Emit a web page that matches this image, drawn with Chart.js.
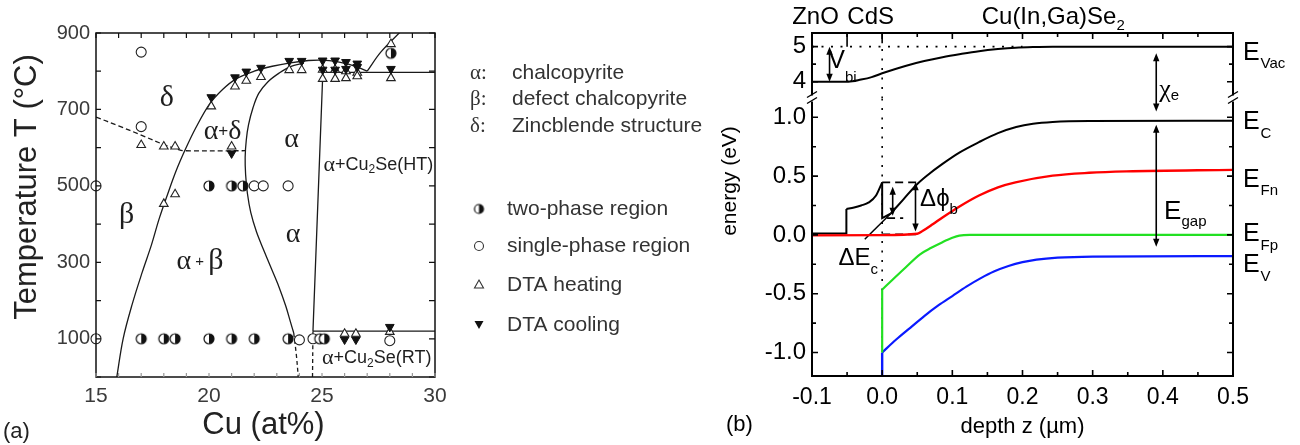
<!DOCTYPE html>
<html>
<head>
<meta charset="utf-8">
<script src="https://cdn.jsdelivr.net/npm/chart.js@4/dist/chart.umd.min.js"></script>
<style>
  html, body { margin: 0; padding: 0; background: #fff; width: 1300px; height: 445px; overflow: hidden; }
  .panel { position: absolute; top: 0; }
  #panelA { left: 0; width: 720px; height: 445px; }
  #panelB { left: 720px; width: 580px; height: 445px; }
</style>
</head>
<body>
<div id="panelA" class="panel"><canvas id="phase" width="720" height="445"></canvas></div>
<div id="panelB" class="panel"><canvas id="band" width="580" height="445"></canvas></div>
<script>
// ---------------- panel (a): Cu–In–Se phase diagram ----------------
const cuTickLabels   = [15, 20, 25, 30];
const tempTickLabels = [100, 300, 500, 700, 900];

// samples [Cu at%, T °C]
const twoPhase = [[17,100],[18,100],[18.5,100],[20,100],[21,100],[22,100],[23.5,100],[24.9,100],[25.1,100],
                  [20,500],[21,500],[21.5,500],[28.05,847]];
const singlePhase = [[15,100],[15,500],[17,850],[17,655],[22,500],[22.4,500],[23.5,500],[24,97],[24.6,100],[28,95]];
const dtaHeating = [[17,607],[18,603],[18.5,603],[18,453],[18.5,478],[21,603],
                    [20.1,708],[21.15,760],[21.65,775],[22.3,785],[23.55,803],[24.1,803],
                    [25.03,804],[25.58,804],[26.06,800],[26.56,796],
                    [25.03,780],[25.58,780],[26.06,782],[26.56,787],[28.05,782],[28.05,871],
                    [26,113],[26.5,113],[28,118]];
const dtaCooling = [[21,585],[20.1,732],[21.15,784],[21.65,799],[22.3,809],[23.55,827],[24.1,827],
                    [25.03,828],[25.58,828],[26.06,824],[26.56,820],
                    [25.03,804],[25.58,804],[26.06,806],[26.56,811],[28.05,806],
                    [26,98],[26.5,98],[28,131]];

// phase boundaries
const liquidus = [[15.92,0],[16.2,100],[16.6,190],[17.05,275],[17.45,345],[17.8,415],[18.15,475],[18.55,540],
                  [18.95,595],[19.4,650],[20.0,712],[20.6,752],[21.2,780],[22.0,800],[22.8,813],[23.6,822],
                  [24.4,828],[25.0,829],[25.6,826],[26.2,818],[26.6,810],[27.0,800]];
const alphaEdge = [[24.2,821],[23.6,812],[23.1,795],[22.6,772],[22.2,742],[21.95,705],[21.75,660],[21.65,620],
                   [21.6,575],[21.62,530],[21.7,480],[21.85,430],[22.1,380],[22.4,335],[22.75,285],[23.1,235],
                   [23.4,185],[23.6,145],[23.75,115]];
const alphaEdgeLow = [[23.75,115],[23.87,55],[23.95,0]];
const cu2seEdge    = [[25.03,786],[24.6,120]];
const cu2seEdgeLow = [[24.6,120],[24.58,0]];
const lineHT       = [[25.03,797],[30,797]];
const lineRT       = [[24.6,120],[30,120]];
const deltaCu2Se   = [[27.0,800],[27.6,850],[28.5,905]];
const betaDelta    = [[15,680],[16,657],[17,633],[18,608],[18.6,596],[18.9,592],[21.6,592]];

// ---------------- panel (b): band diagram ----------------
const depthTicks  = [-0.1, 0.0, 0.1, 0.2, 0.3, 0.4, 0.5];
const energyTicks = [-1.0, -0.5, 0.0, 0.5, 1.0];
const vacuumTicks = [4, 5];

const vacuumLevel = [[-0.1,4.0],[-0.048,4.0],[-0.03,4.06],[-0.015,4.13],[0,4.24],[0.033,4.45],[0.06,4.59],
                     [0.086,4.70],[0.112,4.79],[0.138,4.87],[0.165,4.93],[0.19,4.97],[0.215,4.99],[0.243,5.0],[0.5,5.0]];
const ecWindow    = [[-0.1,0.012],[-0.051,0.012],[-0.051,0.22]];
const ecBuffer    = [[-0.051,0.22],[-0.04,0.233],[-0.03,0.25],[-0.019,0.276],[-0.009,0.333],[0,0.447]];
const ecSpike     = [[0,0.447],[0,0.143],[0.012,0.18]];
const ecAbsorber  = [[0.012,0.18],[0.03,0.3],[0.049,0.427],[0.065,0.51],[0.086,0.604],[0.11,0.70],[0.138,0.789],
                     [0.165,0.865],[0.191,0.917],[0.215,0.945],[0.243,0.96],[0.295,0.968],[0.5,0.97]];
const efn         = [[-0.1,-0.004],[0.0,-0.002],[0.05,0.01],[0.058,0.035],[0.072,0.09],[0.086,0.148],[0.112,0.248],
                     [0.138,0.335],[0.165,0.405],[0.19,0.447],[0.243,0.504],[0.295,0.528],[0.348,0.54],[0.5,0.553]];
const efpEdge     = [[0,-1.0],[0,-0.464]];
const efp         = [[0,-0.464],[0.033,-0.279],[0.054,-0.165],[0.07,-0.11],[0.086,-0.062],[0.1,-0.025],
                     [0.11,-0.006],[0.125,0],[0.5,0]];
const evEdge      = [[0,-1.2],[0,-1.0]];
const ev          = [[0,-1.0],[0.02,-0.89],[0.04,-0.79],[0.06,-0.69],[0.08,-0.6],[0.1,-0.52],[0.12,-0.44],
                     [0.14,-0.37],[0.16,-0.31],[0.18,-0.265],[0.2,-0.232],[0.22,-0.21],[0.25,-0.193],[0.3,-0.184],[0.5,-0.18]];
const barrierTop   = [[0,0.447],[0.05,0.447]];
const barrierSpike = [[0.007,0.143],[0.03,0.143]];
const barrierBase  = [[0,0.005],[0.05,0.005]];
const deltaEcLead  = [[-0.0248,-0.037],[0.012,0.18]];

const SANS  = '"Liberation Sans", Arial, Helvetica, sans-serif';
const SERIF = '"Liberation Serif", "Times New Roman", serif';
Chart.defaults.font.family = SANS;

const pts = arr => arr.map(([x, y]) => ({ x, y }));
const near = (v, step) => Math.abs(v / step - Math.round(v / step)) < 1e-6;

// draws a run of text pieces: [text, font, dy]
function drawRich(ctx, x, y, parts, align) {
  let w = 0;
  parts.forEach(p => { ctx.font = p[1]; w += ctx.measureText(p[0]).width; });
  let cx = align === 'center' ? x - w / 2 : (align === 'right' ? x - w : x);
  ctx.textAlign = 'left';
  ctx.textBaseline = 'middle';
  parts.forEach(p => {
    ctx.font = p[1];
    ctx.fillText(p[0], cx, y + (p[2] || 0));
    cx += ctx.measureText(p[0]).width;
  });
}

// half-filled circle marker (right half dark)
function halfDisc(r) {
  const c = document.createElement('canvas');
  const s = Math.ceil(2 * r + 4);
  c.width = c.height = s;
  const g = c.getContext('2d');
  const m = s / 2;
  g.beginPath(); g.arc(m, m, r, 0, Math.PI * 2); g.fillStyle = '#fff'; g.fill();
  g.beginPath(); g.moveTo(m, m - r); g.arc(m, m, r, -Math.PI / 2, Math.PI / 2); g.closePath();
  g.fillStyle = '#111'; g.fill();
  g.beginPath(); g.arc(m, m, r, 0, Math.PI * 2); g.lineWidth = 1.2; g.strokeStyle = '#111'; g.stroke();
  return c;
}
const halfMarker = halfDisc(5);
const halfMarkerSmall = halfDisc(4.5);

function boundary(data, dash) {
  return { data: pts(data), showLine: true, borderColor: '#1a1a1a', borderWidth: 1.3,
           borderDash: dash || [], pointRadius: 0, tension: 0.35, fill: false };
}
function markers(data, style) {
  return Object.assign({ data: pts(data), showLine: false, clip: false, pointHoverRadius: 0 }, style);
}

const regionLabels = [
  { x: 18.13, y: 729, parts: [['δ', '30px ' + SERIF]] },
  { x: 20.6,  y: 642, parts: [['α', '28px ' + SERIF], ['+', '17px ' + SANS], ['δ', '28px ' + SERIF]] },
  { x: 23.65, y: 620, parts: [['α', '28px ' + SERIF]] },
  { x: 16.36, y: 424, parts: [['β', '30px ' + SERIF]] },
  { x: 23.72, y: 372, parts: [['α', '28px ' + SERIF]] },
  { x: 19.6,  y: 302, parts: [['α', '28px ' + SERIF], [' + ', '15px ' + SANS], ['β', '30px ' + SERIF]] },
  { x: 27.49, y: 555, parts: [['α', '22px ' + SERIF], ['+Cu', '18px ' + SANS], ['2', '12px ' + SANS, 5], ['Se(HT)', '18px ' + SANS]] },
  { x: 27.42, y: 49,  parts: [['α', '22px ' + SERIF], ['+Cu', '18px ' + SANS], ['2', '12px ' + SANS, 5], ['Se(RT)', '18px ' + SANS]] }
];

const phaseDecor = {
  id: 'phaseDecor',
  afterDatasetsDraw(chart) {
    const { ctx, scales: { x, y } } = chart;
    ctx.save();
    ctx.fillStyle = '#1e1e1e';
    regionLabels.forEach(l => drawRich(ctx, x.getPixelForValue(l.x), y.getPixelForValue(l.y), l.parts, 'center'));
    ctx.restore();
  },
  afterDraw(chart) {
    const { ctx, chartArea: a, scales: { x, y } } = chart;
    ctx.save();
    // frame and inward ticks
    ctx.strokeStyle = '#111';
    ctx.lineWidth = 1.5;
    ctx.strokeRect(a.left, a.top, a.right - a.left, a.bottom - a.top);
    ctx.lineWidth = 1.2;
    ctx.beginPath();
    y.ticks.forEach(t => {
      const py = y.getPixelForValue(t.value);
      ctx.moveTo(a.left, py); ctx.lineTo(a.left + 5, py);
      ctx.moveTo(a.right, py); ctx.lineTo(a.right - 6, py);
    });
    x.ticks.forEach(t => {
      const px = x.getPixelForValue(t.value);
      ctx.moveTo(px, a.top); ctx.lineTo(px, a.top + 5);
    });
    ctx.stroke();
    ctx.strokeStyle = '#9a9a9a';
    ctx.beginPath();
    x.ticks.forEach(t => {
      const px = x.getPixelForValue(t.value);
      ctx.moveTo(px, a.bottom); ctx.lineTo(px, a.bottom - 4);
    });
    ctx.stroke();

    // axis titles
    ctx.fillStyle = '#222';
    ctx.textAlign = 'center';
    ctx.textBaseline = 'middle';
    ctx.font = '31px ' + SANS;
    ctx.fillText('Cu (at%)', (a.left + a.right) / 2 - 2, 425);
    ctx.save();
    ctx.translate(27, 187);
    ctx.rotate(-Math.PI / 2);
    ctx.fillText('Temperature T (°C)', 0, 0);
    ctx.restore();
    ctx.textAlign = 'left';
    ctx.font = '22px ' + SANS;
    ctx.fillText('(a)', 3, 432);

    // key
    ctx.fillStyle = '#333';
    const greek = [['α:', 'chalcopyrite', 73], ['β:', 'defect chalcopyrite', 99], ['δ:', 'Zincblende structure', 126]];
    greek.forEach(g => {
      ctx.font = '21px ' + SERIF;
      ctx.fillText(g[0], 470, g[2]);
      ctx.font = '21px ' + SANS;
      ctx.fillText(g[1], 512, g[2]);
    });
    ctx.font = '21px ' + SANS;
    ctx.fillText('two-phase region', 507, 209);
    ctx.fillText('single-phase region', 507, 246);
    ctx.fillText('DTA heating', 507, 285);
    ctx.fillText('DTA cooling', 507, 325);
    ctx.drawImage(halfMarkerSmall, 479 - halfMarkerSmall.width / 2, 209 - halfMarkerSmall.height / 2);
    ctx.strokeStyle = '#333';
    ctx.lineWidth = 1.1;
    ctx.beginPath(); ctx.arc(479, 246, 4.5, 0, Math.PI * 2); ctx.stroke();
    ctx.beginPath(); ctx.moveTo(479, 280); ctx.lineTo(483.5, 288); ctx.lineTo(474.5, 288); ctx.closePath(); ctx.stroke();
    ctx.fillStyle = '#111';
    ctx.beginPath(); ctx.moveTo(474.5, 321); ctx.lineTo(483.5, 321); ctx.lineTo(479, 329); ctx.closePath(); ctx.fill();
    ctx.restore();
  }
};

new Chart(document.getElementById('phase'), {
  type: 'scatter',
  data: {
    datasets: [
      markers(twoPhase,    { pointStyle: halfMarker, pointRadius: 5 }),
      markers(singlePhase, { pointStyle: 'circle', pointRadius: 5, pointBackgroundColor: '#fff', pointBorderColor: '#222', pointBorderWidth: 1.1 }),
      markers(dtaCooling,  { pointStyle: 'triangle', pointRotation: 180, pointRadius: 5, pointBackgroundColor: '#111', pointBorderColor: '#111', pointBorderWidth: 1 }),
      markers(dtaHeating,  { pointStyle: 'triangle', pointRadius: 5, pointBackgroundColor: '#fff', pointBorderColor: '#222', pointBorderWidth: 1.1 }),
      boundary(liquidus),
      boundary(alphaEdge),
      boundary(alphaEdgeLow, [4, 3]),
      boundary(cu2seEdge),
      boundary(cu2seEdgeLow, [4, 3]),
      boundary(lineHT),
      boundary(lineRT),
      boundary(deltaCu2Se),
      boundary(betaDelta, [5, 3])
    ]
  },
  options: {
    responsive: false,
    animation: false,
    events: [],
    layout: { padding: { top: 33, right: 285, bottom: 0, left: 0 } },
    plugins: { legend: { display: false }, tooltip: { enabled: false } },
    scales: {
      x: {
        type: 'linear', min: 15, max: 30,
        grid: { display: false, drawTicks: false },
        border: { display: false },
        ticks: {
          stepSize: 1, autoSkip: false, maxRotation: 0, minRotation: 0, includeBounds: false,
          padding: 7, color: '#3a3a3a', font: { size: 21 },
          callback: v => cuTickLabels.includes(v) ? String(v) : ''
        },
        afterFit: s => { s.height = 68; }
      },
      y: {
        type: 'linear', min: 0, max: 900,
        grid: { display: false, drawTicks: false },
        border: { display: false },
        ticks: {
          stepSize: 100, autoSkip: false, includeBounds: false, padding: 6, color: '#3a3a3a', font: { size: 20 },
          callback: v => tempTickLabels.includes(v) ? String(v) : ''
        },
        afterFit: s => { s.width = 96; }
      }
    }
  },
  plugins: [phaseDecor]
});

// ---------------- panel (b) drawing ----------------
function curve(data, color, width, axis, opts) {
  return Object.assign({ data: pts(data), showLine: true, borderColor: color, borderWidth: width,
                         pointRadius: 0, yAxisID: axis, fill: false, tension: 0 }, opts || {});
}
const smooth = { cubicInterpolationMode: 'monotone' };
const dotted = { borderDash: [2, 7.5], borderCapStyle: 'butt' };
const dashed = { borderDash: [8, 5] };

const arrows = [
  { x: -0.075, top: [5.0, 'yt'],   bottom: [4.0, 'yt'] },
  { x: 0.3906, top: [4.81, 'yt'],  bottom: [1.049, 'yb'] },
  { x: 0.3906, top: [0.936, 'yb'], bottom: [-0.10, 'yb'] },
  { x: 0.015,  top: [0.41, 'yb'],  bottom: [0.162, 'yb'] },
  { x: 0.0475, top: [0.447, 'yb'], bottom: [0.028, 'yb'] }
];
const notes = [
  { x: -0.0566, y: 4.59,  axis: 'yt', parts: [['V', '25px ' + SANS], ['bi', '15px ' + SANS, 17]] },
  { x: 0.409,   y: 3.76,  axis: 'yt', parts: [['χ', '26px ' + SERIF], ['e', '15px ' + SANS, 6]] },
  { x: 0.432,   y: 0.20,  axis: 'yb', parts: [['E', '26px ' + SANS], ['gap', '15px ' + SANS, 10]] },
  { x: 0.081,   y: 0.30,  axis: 'yb', parts: [['Δϕ', '24px ' + SANS], ['b', '15px ' + SANS, 10]] },
  { x: -0.034,  y: -0.20, axis: 'yb', parts: [['ΔE', '24px ' + SANS], ['c', '15px ' + SANS, 11]] }
];
const bandLabels = [
  { sub: 'Vac', axis: 'yt', y: 4.82 },
  { sub: 'C',   axis: 'yb', y: 0.957 },
  { sub: 'Fn',  axis: 'yb', y: 0.47 },
  { sub: 'Fp',  axis: 'yb', y: 0.004 },
  { sub: 'V',   axis: 'yb', y: -0.26 }
];

function vArrow(ctx, x, y1, y2) {
  const head = 8, half = 3.2;
  ctx.beginPath(); ctx.moveTo(x, y1 + head - 1); ctx.lineTo(x, y2 - head + 1); ctx.stroke();
  ctx.beginPath(); ctx.moveTo(x, y1); ctx.lineTo(x - half, y1 + head); ctx.lineTo(x + half, y1 + head); ctx.closePath(); ctx.fill();
  ctx.beginPath(); ctx.moveTo(x, y2); ctx.lineTo(x - half, y2 - head); ctx.lineTo(x + half, y2 - head); ctx.closePath(); ctx.fill();
}

const bandDecor = {
  id: 'bandDecor',
  afterDraw(chart) {
    const { ctx, chartArea: a, scales } = chart;
    const { x, yb, yt } = scales;
    const yOf = (v, ax) => scales[ax].getPixelForValue(v);
    ctx.save();
    ctx.strokeStyle = '#000';
    ctx.fillStyle = '#000';

    // frame
    ctx.lineWidth = 2;
    ctx.strokeRect(a.left, a.top, a.right - a.left, a.bottom - a.top);

    // inward ticks
    ctx.lineWidth = 1.6;
    ctx.beginPath();
    x.ticks.forEach(t => {
      const px = x.getPixelForValue(t.value);
      const len = near(t.value, 0.1) ? 6 : 4;
      ctx.moveTo(px, a.bottom); ctx.lineTo(px, a.bottom - len);
      ctx.moveTo(px, a.top); ctx.lineTo(px, a.top + len);
    });
    [yb, yt].forEach(s => {
      const major = s === yb ? 0.5 : 1;
      s.ticks.forEach(t => {
        const py = s.getPixelForValue(t.value);
        const len = near(t.value, major) ? 6 : 4;
        ctx.moveTo(a.left, py); ctx.lineTo(a.left + len, py);
        ctx.moveTo(a.right, py); ctx.lineTo(a.right - len, py);
      });
    });
    ctx.stroke();

    // axis break marks
    const yBreak = yb.top;
    [a.left, a.right].forEach(ax => {
      ctx.fillStyle = '#fff';
      ctx.fillRect(ax - 2, yBreak - 3, 4, 6);
      ctx.fillStyle = '#000';
      ctx.lineWidth = 1.4;
      ctx.beginPath();
      ctx.moveTo(ax - 5, yBreak - 1); ctx.lineTo(ax + 5, yBreak - 7);
      ctx.moveTo(ax - 5, yBreak + 5); ctx.lineTo(ax + 5, yBreak - 1);
      ctx.stroke();
    });

    // arrows
    ctx.lineWidth = 1.6;
    arrows.forEach(ar => vArrow(ctx, x.getPixelForValue(ar.x), yOf(ar.top[0], ar.top[1]), yOf(ar.bottom[0], ar.bottom[1])));

    // annotations
    notes.forEach(n => drawRich(ctx, x.getPixelForValue(n.x), yOf(n.y, n.axis), n.parts, 'center'));

    // level names on the right
    bandLabels.forEach(l => drawRich(ctx, a.right + 10, yOf(l.y, l.axis), [['E', '25px ' + SANS], [' ', '3px ' + SANS], [l.sub, '15px ' + SANS, 11]], 'left'));

    // layer names
    ctx.textAlign = 'center';
    ctx.textBaseline = 'middle';
    ctx.font = '24px ' + SANS;
    ctx.fillText('ZnO', x.getPixelForValue(-0.095), 17);
    ctx.fillText('CdS', x.getPixelForValue(-0.0164), 17);
    drawRich(ctx, x.getPixelForValue(0.2438), 17, [['Cu(In,Ga)Se', '24px ' + SANS], ['2', '15px ' + SANS, 9]], 'center');

    // axis titles
    ctx.textAlign = 'center';
    ctx.font = '22px ' + SANS;
    ctx.fillText('depth z (µm)', (a.left + a.right) / 2, 427);
    ctx.textAlign = 'left';
    ctx.fillText('(b)', 6, 425);
    ctx.save();
    ctx.translate(10, 181);
    ctx.rotate(-Math.PI / 2);
    ctx.textAlign = 'center';
    ctx.font = '21px ' + SANS;
    ctx.fillText('energy (eV)', 0, 0);
    ctx.restore();
    ctx.restore();
  }
};

new Chart(document.getElementById('band'), {
  type: 'scatter',
  data: {
    datasets: [
      curve(efn, '#ff0000', 2.4, 'yb', smooth),
      curve(barrierBase, '#000', 1.8, 'yb', dashed),
      curve(ecWindow, '#000', 2, 'yb'),
      curve(ecBuffer, '#000', 2, 'yb', smooth),
      curve(ecSpike, '#000', 2, 'yb'),
      curve(ecAbsorber, '#000', 2, 'yb', smooth),
      curve(deltaEcLead, '#000', 1.5, 'yb'),
      curve(barrierTop, '#000', 1.8, 'yb', dashed),
      curve(barrierSpike, '#000', 1.8, 'yb', dashed),
      curve(efpEdge, '#22e022', 2.2, 'yb'),
      curve(efp, '#22e022', 2.2, 'yb', smooth),
      curve(evEdge, '#0a1aff', 2.4, 'yb'),
      curve(ev, '#0a1aff', 2.2, 'yb', smooth),
      curve([[0, -1.2], [0, 1.16]], '#000', 1.6, 'yb', dotted),
      curve(vacuumLevel, '#000', 2, 'yt', smooth),
      curve([[-0.1, 5.0], [0.2, 5.0]], '#000', 1.6, 'yt', dotted),
      curve([[0, 3.52], [0, 5.1]], '#000', 1.6, 'yt', dotted),
      curve([[0, 5.1], [0, 5.39]], '#000', 1.6, 'yt'),
      curve([[-0.05, 5.0], [-0.05, 5.39]], '#000', 1.6, 'yt')
    ]
  },
  options: {
    responsive: false,
    animation: false,
    events: [],
    layout: { padding: { top: 33, right: 67, bottom: 0, left: 0 } },
    plugins: { legend: { display: false }, tooltip: { enabled: false } },
    scales: {
      x: {
        type: 'linear', min: -0.1, max: 0.5,
        grid: { display: false, drawTicks: false },
        border: { display: false },
        afterBuildTicks: s => { s.ticks = s.ticks.filter(t => near(t.value, 0.05)); },
        ticks: {
          stepSize: 0.05, autoSkip: false, maxRotation: 0, minRotation: 0, includeBounds: false,
          padding: 8, color: '#000', font: { size: 23 },
          callback: v => {
            const hit = depthTicks.find(d => Math.abs(d - v) < 1e-6);
            return hit === undefined ? '' : hit.toFixed(1);
          }
        },
        afterFit: s => { s.height = 69; }
      },
      yb: {
        type: 'linear', position: 'left', stack: 'energy', stackWeight: 277.5,
        min: -1.2, max: 1.16,
        grid: { display: false, drawTicks: false },
        border: { display: false },
        afterBuildTicks: s => { s.ticks = s.ticks.filter(t => near(t.value, 0.25)); },
        ticks: {
          stepSize: 0.25, autoSkip: false, includeBounds: false, padding: 6, color: '#000', font: { size: 24 },
          callback: v => {
            const hit = energyTicks.find(d => Math.abs(d - v) < 1e-6);
            return hit === undefined ? '' : hit.toFixed(1);
          }
        },
        afterFit: s => { s.width = 92; }
      },
      yt: {
        type: 'linear', position: 'left', stack: 'energy', stackWeight: 65.5,
        min: 3.52, max: 5.39,
        grid: { display: false, drawTicks: false },
        border: { display: false },
        afterBuildTicks: s => { s.ticks = s.ticks.filter(t => near(t.value, 0.5)); },
        ticks: {
          stepSize: 0.5, autoSkip: false, includeBounds: false, padding: 6, color: '#000', font: { size: 24 },
          callback: v => vacuumTicks.includes(v) ? String(v) : ''
        },
        afterFit: s => { s.width = 92; }
      }
    }
  },
  plugins: [bandDecor]
});
</script>
</body>
</html>
